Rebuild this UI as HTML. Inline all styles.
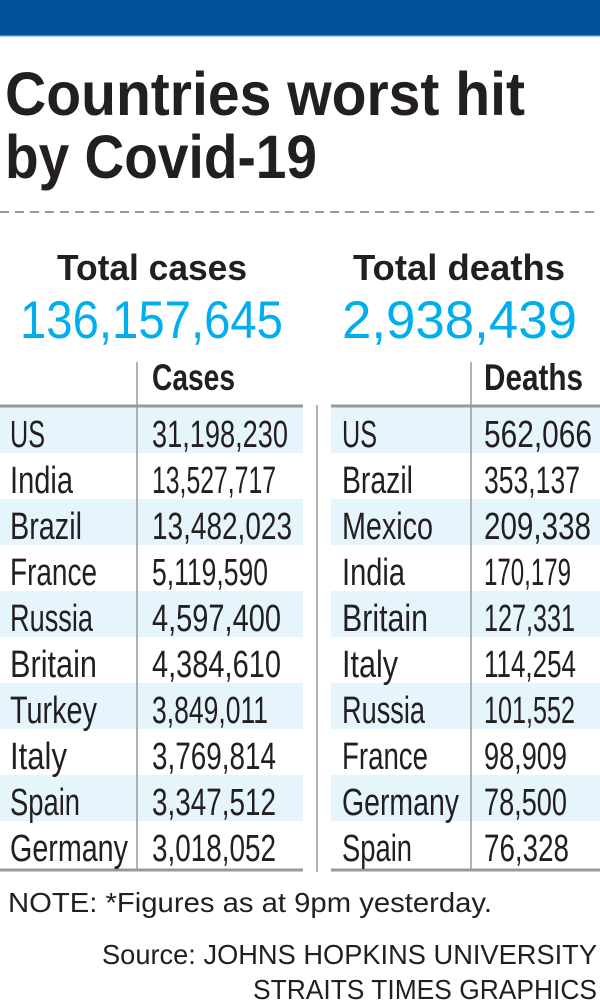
<!DOCTYPE html>
<html><head><meta charset="utf-8"><style>
html,body{margin:0;padding:0;background:#fff;}
svg{display:block;}
text{font-family:"Liberation Sans",sans-serif;}
.r{font-size:38px;fill:#231f20;}
.b{font-weight:bold;fill:#231f20;}
</style></head><body>
<svg width="600" height="1004" viewBox="0 0 600 1004" xmlns="http://www.w3.org/2000/svg">
<rect x="0" y="0" width="600" height="35" fill="#00539b"/>
<rect x="0" y="35" width="600" height="1.5" fill="#3d8fd6"/>
<text class="b" x="5" y="115" font-size="61" textLength="520" lengthAdjust="spacingAndGlyphs">Countries worst hit</text>
<text class="b" x="5" y="178" font-size="61" textLength="312" lengthAdjust="spacingAndGlyphs">by Covid-19</text>
<line x1="0" y1="212" x2="600" y2="212" stroke="#999" stroke-width="2" stroke-dasharray="9,6"/>
<text class="b" x="57" y="280" font-size="36" textLength="190" lengthAdjust="spacingAndGlyphs">Total cases</text>
<text class="b" x="353" y="280" font-size="36" textLength="212" lengthAdjust="spacingAndGlyphs">Total deaths</text>
<text x="20" y="338" font-size="53" fill="#00aeef" textLength="263" lengthAdjust="spacingAndGlyphs">136,157,645</text>
<text x="342" y="338" font-size="53" fill="#00aeef" textLength="235" lengthAdjust="spacingAndGlyphs">2,938,439</text>
<text class="b" x="152" y="390" font-size="37" textLength="83" lengthAdjust="spacingAndGlyphs">Cases</text>
<text class="b" x="484" y="390" font-size="37" textLength="99" lengthAdjust="spacingAndGlyphs">Deaths</text>
<g fill="#e6f4fc">
<rect x="0" y="407" width="303" height="46"/><rect x="331" y="407" width="269" height="46"/>
<rect x="0" y="499" width="303" height="46"/><rect x="331" y="499" width="269" height="46"/>
<rect x="0" y="591" width="303" height="46"/><rect x="331" y="591" width="269" height="46"/>
<rect x="0" y="683" width="303" height="46"/><rect x="331" y="683" width="269" height="46"/>
<rect x="0" y="775" width="303" height="46"/><rect x="331" y="775" width="269" height="46"/>
</g>
<g stroke="#999" stroke-width="3">
<line x1="0" y1="406" x2="303" y2="406"/><line x1="331" y1="406" x2="600" y2="406"/>
<line x1="0" y1="870" x2="303" y2="870"/><line x1="331" y1="870" x2="600" y2="870"/>
</g>
<g stroke="#999" stroke-width="1.5">
<line x1="137" y1="362" x2="137" y2="870"/><line x1="471" y1="362" x2="471" y2="870"/>
<line x1="317" y1="405" x2="317" y2="872"/>
</g>
<g>
<text class="r" x="10" y="447" textLength="35" lengthAdjust="spacingAndGlyphs">US</text>
<text class="r" x="10" y="493" textLength="63" lengthAdjust="spacingAndGlyphs">India</text>
<text class="r" x="10" y="539" textLength="72" lengthAdjust="spacingAndGlyphs">Brazil</text>
<text class="r" x="10" y="585" textLength="87" lengthAdjust="spacingAndGlyphs">France</text>
<text class="r" x="10" y="631" textLength="83" lengthAdjust="spacingAndGlyphs">Russia</text>
<text class="r" x="10" y="677" textLength="87" lengthAdjust="spacingAndGlyphs">Britain</text>
<text class="r" x="10" y="723" textLength="87" lengthAdjust="spacingAndGlyphs">Turkey</text>
<text class="r" x="10" y="769" textLength="57" lengthAdjust="spacingAndGlyphs">Italy</text>
<text class="r" x="10" y="815" textLength="70" lengthAdjust="spacingAndGlyphs">Spain</text>
<text class="r" x="10" y="861" textLength="118" lengthAdjust="spacingAndGlyphs">Germany</text>
<text class="r" x="152" y="447" textLength="136" lengthAdjust="spacingAndGlyphs">31,198,230</text>
<text class="r" x="152" y="493" textLength="124" lengthAdjust="spacingAndGlyphs">13,527,717</text>
<text class="r" x="152" y="539" textLength="140" lengthAdjust="spacingAndGlyphs">13,482,023</text>
<text class="r" x="152" y="585" textLength="116" lengthAdjust="spacingAndGlyphs">5,119,590</text>
<text class="r" x="152" y="631" textLength="129" lengthAdjust="spacingAndGlyphs">4,597,400</text>
<text class="r" x="152" y="677" textLength="129" lengthAdjust="spacingAndGlyphs">4,384,610</text>
<text class="r" x="152" y="723" textLength="116" lengthAdjust="spacingAndGlyphs">3,849,011</text>
<text class="r" x="152" y="769" textLength="124" lengthAdjust="spacingAndGlyphs">3,769,814</text>
<text class="r" x="152" y="815" textLength="124" lengthAdjust="spacingAndGlyphs">3,347,512</text>
<text class="r" x="152" y="861" textLength="124" lengthAdjust="spacingAndGlyphs">3,018,052</text>
<text class="r" x="342" y="447" textLength="35" lengthAdjust="spacingAndGlyphs">US</text>
<text class="r" x="342" y="493" textLength="71" lengthAdjust="spacingAndGlyphs">Brazil</text>
<text class="r" x="342" y="539" textLength="91" lengthAdjust="spacingAndGlyphs">Mexico</text>
<text class="r" x="342" y="585" textLength="63" lengthAdjust="spacingAndGlyphs">India</text>
<text class="r" x="342" y="631" textLength="86" lengthAdjust="spacingAndGlyphs">Britain</text>
<text class="r" x="342" y="677" textLength="56" lengthAdjust="spacingAndGlyphs">Italy</text>
<text class="r" x="342" y="723" textLength="83" lengthAdjust="spacingAndGlyphs">Russia</text>
<text class="r" x="342" y="769" textLength="86" lengthAdjust="spacingAndGlyphs">France</text>
<text class="r" x="342" y="815" textLength="117" lengthAdjust="spacingAndGlyphs">Germany</text>
<text class="r" x="342" y="861" textLength="70" lengthAdjust="spacingAndGlyphs">Spain</text>
<text class="r" x="484" y="447" textLength="108" lengthAdjust="spacingAndGlyphs">562,066</text>
<text class="r" x="484" y="493" textLength="96" lengthAdjust="spacingAndGlyphs">353,137</text>
<text class="r" x="484" y="539" textLength="107" lengthAdjust="spacingAndGlyphs">209,338</text>
<text class="r" x="484" y="585" textLength="87" lengthAdjust="spacingAndGlyphs">170,179</text>
<text class="r" x="484" y="631" textLength="91" lengthAdjust="spacingAndGlyphs">127,331</text>
<text class="r" x="484" y="677" textLength="92" lengthAdjust="spacingAndGlyphs">114,254</text>
<text class="r" x="484" y="723" textLength="91" lengthAdjust="spacingAndGlyphs">101,552</text>
<text class="r" x="484" y="769" textLength="83" lengthAdjust="spacingAndGlyphs">98,909</text>
<text class="r" x="484" y="815" textLength="83" lengthAdjust="spacingAndGlyphs">78,500</text>
<text class="r" x="484" y="861" textLength="85" lengthAdjust="spacingAndGlyphs">76,328</text>
</g>
<text x="8" y="912" font-size="28" fill="#231f20" textLength="484" lengthAdjust="spacingAndGlyphs">NOTE: *Figures as at 9pm yesterday.</text>
<text x="102" y="964" font-size="28" fill="#231f20" textLength="495" lengthAdjust="spacingAndGlyphs">Source: JOHNS HOPKINS UNIVERSITY</text>
<text x="253" y="999" font-size="28" fill="#231f20" textLength="344" lengthAdjust="spacingAndGlyphs">STRAITS TIMES GRAPHICS</text>
</svg>
</body></html>
